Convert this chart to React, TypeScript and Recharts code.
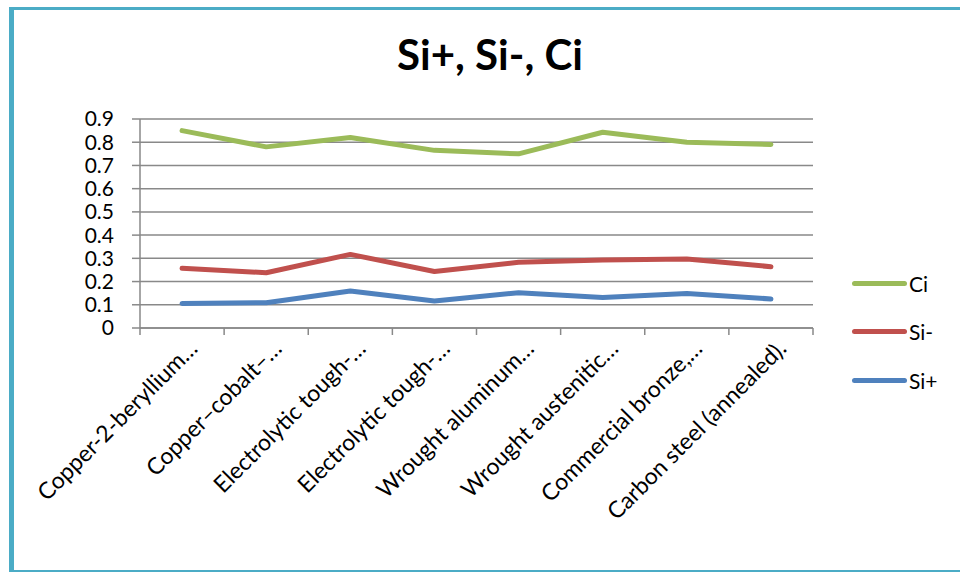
import React from "react";
import { LineChart, Line, XAxis, YAxis, CartesianGrid } from "recharts";

const categories = [
  "Copper-2-beryllium…",
  "Copper–cobalt–…",
  "Electrolytic tough-…",
  "Electrolytic tough-…",
  "Wrought aluminum…",
  "Wrought austenitic…",
  "Commercial bronze,…",
  "Carbon steel (annealed).",
];

const ciValues = [0.85, 0.78, 0.82, 0.765, 0.75, 0.843, 0.8, 0.79];
const siMinusValues = [0.257, 0.238, 0.317, 0.243, 0.283, 0.293, 0.297, 0.264];
const siPlusValues = [0.106, 0.109, 0.159, 0.116, 0.152, 0.131, 0.149, 0.125];

const yTicks = [0, 0.1, 0.2, 0.3, 0.4, 0.5, 0.6, 0.7, 0.8, 0.9];

const series = [
  { key: "siPlus", name: "Si+", color: "#4F81BD", values: siPlusValues },
  { key: "siMinus", name: "Si-", color: "#C0504D", values: siMinusValues },
  { key: "ci", name: "Ci", color: "#9BBB59", values: ciValues },
];

// each category sits in the middle of its slot on a 0..N numeric axis
const data = categories.map((name, i) => {
  const row: Record<string, string | number> = { name, pos: i + 0.5 };
  series.forEach((s) => {
    row[s.key] = s.values[i];
  });
  return row;
});

// slot boundaries get a tick mark, slot centres get the label
const xTicks: number[] = [];
for (let i = 0; i <= categories.length; i++) {
  xTicks.push(i);
  if (i < categories.length) xTicks.push(i + 0.5);
}

const FONT = "Lato, 'Noto Sans', sans-serif";
const GRID = "#898989";

const SlotTick = (props: any) => {
  const { x, y, payload } = props;
  const v = payload.value as number;
  if (Number.isInteger(v)) {
    return <line x1={x} y1={y} x2={x} y2={y + 7} stroke={GRID} strokeWidth={1.5} />;
  }
  const ax = x + 17;
  const ay = y + 22;
  return (
    <text
      x={ax}
      y={ay}
      transform={`rotate(-45, ${ax}, ${ay})`}
      textAnchor="end"
      fontSize={23}
      fontFamily={FONT}
      fill="#000"
    >
      {categories[Math.floor(v)]}
    </text>
  );
};

const App = () => {
  // legend lists the series top-down in reverse drawing order
  const legendItems = [...series].reverse();
  return (
    <div
      style={{
        position: "relative",
        width: 960,
        height: 572,
        background: "#fff",
        overflow: "hidden",
        fontFamily: FONT,
      }}
    >
      <style>{`html, body { margin: 0; overflow: hidden; }`}</style>
      <div
        style={{
          position: "absolute",
          left: 9,
          top: 7,
          width: 980,
          height: 565,
          boxSizing: "border-box",
          borderLeft: "5px solid #4BACC6",
          borderTop: "3px solid #4BACC6",
          borderBottom: "2px solid #4BACC6",
        }}
      />
      <div
        style={{
          position: "absolute",
          left: 0,
          width: 980,
          top: 29,
          textAlign: "center",
          fontSize: 42,
          fontWeight: 700,
          color: "#000",
        }}
      >
        Si+, Si-, Ci
      </div>
      <div style={{ position: "absolute", left: 0, top: 0 }}>
        <LineChart
          width={960}
          height={572}
          data={data}
          margin={{ top: 119, right: 147, bottom: 44, left: 0 }}
        >
          <CartesianGrid vertical={false} stroke={GRID} strokeWidth={1.5} />
          <XAxis
            type="number"
            dataKey="pos"
            domain={[0, categories.length]}
            ticks={xTicks}
            interval={0}
            height={200}
            tickLine={false}
            tickSize={0}
            tickMargin={0}
            stroke={GRID}
            strokeWidth={1.5}
            tick={<SlotTick />}
          />
          <YAxis
            width={140}
            domain={[0, 0.9]}
            ticks={yTicks}
            interval={0}
            tickSize={8}
            tickMargin={18}
            stroke={GRID}
            strokeWidth={1.5}
            tick={{ fill: "#000", fontSize: 21, fontFamily: FONT }}
          />
          {series.map((s) => (
            <Line
              key={s.key}
              dataKey={s.key}
              name={s.name}
              stroke={s.color}
              strokeWidth={5}
              strokeLinecap="round"
              strokeLinejoin="round"
              dot={false}
              activeDot={false}
              isAnimationActive={false}
            />
          ))}
        </LineChart>
      </div>
      <div style={{ position: "absolute", left: 852, top: 259 }}>
        {legendItems.map((s) => (
          <div
            key={s.key}
            style={{ display: "flex", alignItems: "center", height: 48.5 }}
          >
            <span
              style={{
                display: "inline-block",
                width: 55,
                height: 5,
                borderRadius: 3,
                background: s.color,
              }}
            />
            <span style={{ fontSize: 21, marginLeft: 2, color: "#000" }}>
              {s.name}
            </span>
          </div>
        ))}
      </div>
    </div>
  );
};

export default App;
